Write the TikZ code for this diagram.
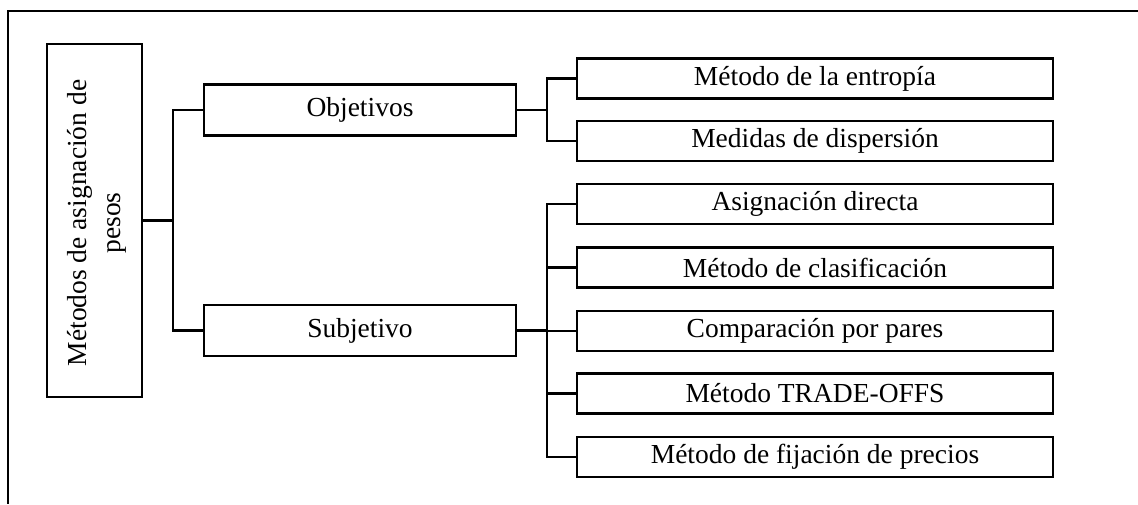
\documentclass[tikz,border=0pt]{standalone}
\usepackage{fontspec}
\setmainfont{Liberation Serif}
\begin{document}
\begin{tikzpicture}[x=1pt,y=-1pt,
  box/.style={draw,line width=2.7pt,rectangle,inner sep=0pt,font=\fontsize{27.5}{31}\selectfont},
  leaf/.style={box,minimum width=476pt,minimum height=40pt},
  mid/.style={box,minimum width=312pt,minimum height=51pt},
  link/.style={line width=2.5pt}]
\useasboundingbox (0,0) rectangle (1138,504);
\draw[line width=1.6pt] (1138,11) -- (8,11) -- (8,504);
\node[box,minimum width=95pt,minimum height=353pt] (root) at (94.5,220.5) {};
\node[rotate=90,align=center,font=\fontsize{27.5}{34}\selectfont] (roottxt) at (97,223) {Métodos de asignación de\\pesos};
\node[mid] (obj) at (360,110) {Objetivos};
\node[mid] (sub) at (360,330.5) {Subjetivo};
\node[leaf] (r1) at (815,78.5) {Método de la entropía};
\node[leaf] (r2) at (815,141) {Medidas de dispersión};
\node[leaf] (r3) at (815,204) {Asignación directa};
\node[leaf] (r4) at (815,267.5) {Método de clasificación};
\node[leaf] (r5) at (815,331) {Comparación por pares};
\node[leaf] (r6) at (815,393.5) {Método TRADE-OFFS};
\node[leaf] (r7) at (815,457) {Método de fijación de precios};
\coordinate (j0) at (173,220.5);
\coordinate (j1) at (547,110);
\coordinate (j2) at (547,330.5);
\draw[link] (root.east) -- (j0);
\draw[link] (j0) |- (obj.west);
\draw[link] (j0) |- (sub.west);
\draw[link] (obj.east) -- (j1);
\draw[link] (j1) |- (r1.west);
\draw[link] (j1) |- (r2.west);
\draw[link] (sub.east) -- (j2);
\foreach \n in {r3,r4,r5,r6,r7} \draw[link] (j2) |- (\n.west);
\end{tikzpicture}
\end{document}
